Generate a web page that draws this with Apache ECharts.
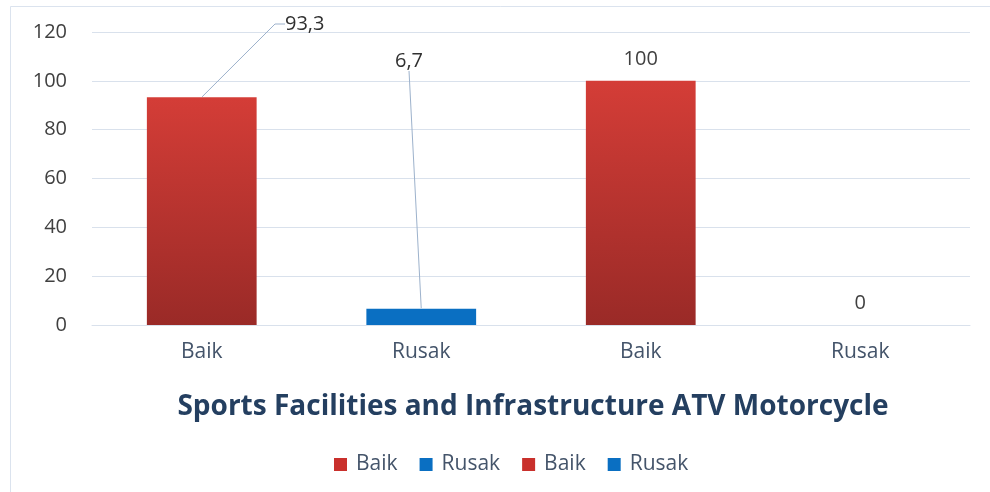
<!DOCTYPE html>
<html>
<head>
<meta charset="utf-8">
<script src="https://cdn.jsdelivr.net/npm/echarts@6/dist/echarts.min.js"></script>
<style>
  html, body { margin: 0; padding: 0; background: #ffffff; }
  #chart { width: 990px; height: 492px; }
</style>
</head>
<body>
<div id="chart"></div>
<script>
// Condition of ATV motorcycle sports facilities (%)
const categories = ['Baik', 'Rusak', 'Baik', 'Rusak'];
const seriesNames = ['Baik-1', 'Rusak-1', 'Baik-2', 'Rusak-2'];
const baik1 = [93.3, '-', '-', '-'];
const rusak1 = ['-', 6.7, '-', '-'];
const baik2 = ['-', '-', 100, '-'];
const rusak2 = ['-', '-', '-', 0];
const yTicks = [0, 20, 40, 60, 80, 100, 120];

const FONT = '"Open Sans", "Noto Sans", sans-serif';
const RED = '#c9302c';
const BLUE = '#0a6fc2';
const redFill = new echarts.graphic.LinearGradient(0, 0, 0, 1, [
  { offset: 0, color: '#d43d37' },
  { offset: 1, color: '#9a2a27' }
]);

const labelText = p => String(p.value).replace('.', ',');
const valueLabel = {
  show: true,
  position: 'top',
  distance: 12,
  formatter: labelText,
  color: '#404040',
  fontFamily: FONT,
  fontSize: 20,
  textBorderWidth: 0
};
const leaderStyle = { color: '#9db2cc', width: 1 };

function bar(name, data, color, withLabel) {
  return {
    name: name,
    type: 'bar',
    data: data,
    barWidth: '50%',
    barGap: '-100%',
    itemStyle: { color: color },
    label: withLabel ? valueLabel : { show: false }
  };
}

// Callout labels sit on a point at each bar's top and are pulled out with a leader line;
// the moved label is snapped to whole pixels so the text stays crisp
function callout(data, dx, dy, length2) {
  return {
    type: 'scatter',
    data: data,
    symbol: 'circle',
    symbolSize: 1,
    itemStyle: { color: '#ffffff', opacity: 0 },
    z: 5,
    label: Object.assign({}, valueLabel, { distance: 0, opacity: 1, color: '#303030' }),
    labelLayout: p => ({
      x: Math.round(p.labelRect.x + dx),
      y: Math.round(p.labelRect.y + dy),
      align: 'left',
      verticalAlign: 'top'
    }),
    labelLine: { show: true, length2: length2, lineStyle: leaderStyle }
  };
}

const chart = echarts.init(document.getElementById('chart'));
chart.setOption({
  backgroundColor: '#ffffff',
  animation: false,
  title: {
    text: 'Sports Facilities and Infrastructure ATV Motorcycle',
    left: 528,
    textAlign: 'center',
    top: 388,
    textStyle: {
      fontFamily: FONT,
      fontWeight: 'bold',
      fontSize: 28,
      color: '#243f60'
    }
  },
  legend: {
    data: [
      { name: seriesNames[0], itemStyle: { color: RED } },
      { name: seriesNames[1], itemStyle: { color: BLUE } },
      { name: seriesNames[2], itemStyle: { color: RED } },
      { name: seriesNames[3], itemStyle: { color: BLUE } }
    ],
    formatter: n => n.split('-')[0],
    left: 329,
    top: 449,
    itemWidth: 13,
    itemHeight: 13,
    itemGap: 22,
    icon: 'rect',
    textStyle: { fontFamily: FONT, fontSize: 21, color: '#44546a', padding: [0, 0, 0, 4] }
  },
  grid: { left: 92, right: 20, top: 32, bottom: 167, containLabel: false },
  xAxis: {
    type: 'category',
    data: categories,
    axisLine: { show: true, lineStyle: { color: '#d9e1ec' } },
    axisTick: { show: false },
    axisLabel: {
      margin: 17,
      fontFamily: FONT,
      fontSize: 21,
      color: '#44546a'
    }
  },
  yAxis: {
    type: 'value',
    min: yTicks[0],
    max: yTicks[yTicks.length - 1],
    interval: 20,
    axisLine: { show: false },
    axisTick: { show: false },
    splitLine: { lineStyle: { color: '#d9e1ec', width: 1 } },
    axisLabel: {
      margin: 25,
      fontFamily: FONT,
      fontSize: 20,
      color: '#404040'
    }
  },
  graphic: [{
    type: 'rect',
    shape: { x: 10.5, y: 6.5, width: 1000, height: 500 },
    style: { fill: 'none', stroke: '#dbe3ee', lineWidth: 1 },
    silent: true,
    z: -1
  }],
  series: [
    bar(seriesNames[0], baik1, redFill, false),
    bar(seriesNames[1], rusak1, BLUE, false),
    bar(seriesNames[2], baik2, redFill, true),
    bar(seriesNames[3], rusak2, BLUE, true),
    callout(baik1, 103, -63, 10),
    callout(rusak1, -12, -237, 0)
  ]
});
</script>
</body>
</html>
